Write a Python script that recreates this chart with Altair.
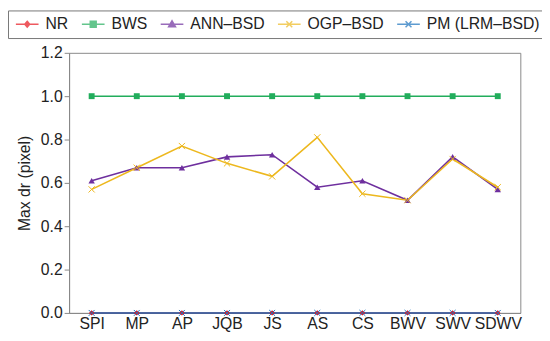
import altair as alt
import pandas as pd

categories = ["SPI", "MP", "AP", "JQB", "JS", "AS", "CS", "BWV", "SWV", "SDWV"]
series_names = ["NR", "BWS", "ANN–BSD", "OGP–BSD", "PM (LRM–BSD)"]
nr = [0, 0, 0, 0, 0, 0, 0, 0, 0, 0]
bws = [1.0, 1.0, 1.0, 1.0, 1.0, 1.0, 1.0, 1.0, 1.0, 1.0]
ann = [0.61, 0.67, 0.67, 0.72, 0.73, 0.58, 0.61, 0.52, 0.72, 0.57]
ogp = [0.57, 0.67, 0.77, 0.69, 0.63, 0.81, 0.55, 0.52, 0.71, 0.58]
pm = [0, 0, 0, 0, 0, 0, 0, 0, 0, 0]
y_ticks = [0.0, 0.2, 0.4, 0.6, 0.8, 1.0, 1.2]

colors = ["#E8141C", "#22AD5C", "#6E2F9E", "#EDB81E", "#1A72BD"]
XPATH = "M-1,-1L1,1M-1,1L1,-1"
marker_shapes = ["diamond", "square", "triangle-up", XPATH, XPATH]
marker_filled = [True, True, True, False, False]
marker_sizes = [30, 36, 42, 40, 36]

# legend symbols: short line + marker (custom paths)
LINE = "M-1.2,0H3.4"
legend_paths = [
    LINE + "M1.1,-0.6L1.6,0L1.1,0.6L0.6,0Z",
    LINE + "M0.5,-0.6H1.7V0.6H0.5Z",
    LINE + "M1.1,-0.7L1.8,0.5H0.4Z",
    LINE + "M0.5,-0.6L1.7,0.6M0.5,0.6L1.7,-0.6",
    LINE + "M0.5,-0.6L1.7,0.6M0.5,0.6L1.7,-0.6",
]

all_vals = [nr, bws, ann, ogp, pm]
rows = []
for s, vals in zip(series_names, all_vals):
    for c, v in zip(categories, vals):
        rows.append({"category": c, "series": s, "value": v})
df = pd.DataFrame(rows)

FONT = "Liberation Sans"
xenc = alt.X("category:N", sort=categories,
             scale=alt.Scale(type="point", padding=0.5),
             axis=alt.Axis(title=None, ticks=False, labelAngle=0, labelFontSize=16,
                           labelFont=FONT, labelColor="#222", labelPadding=3,
                           domainColor="#888"))
yenc = alt.Y("value:Q", scale=alt.Scale(domain=[0, 1.2], nice=False),
             axis=alt.Axis(title="Max dr (pixel)", values=y_ticks, format=".1f", grid=False,
                           tickSize=5, tickColor="#888", domainColor="#888",
                           labelFontSize=16, labelFont=FONT, labelColor="#222",
                           titleFontSize=16, titleFont=FONT, titleFontWeight="normal",
                           titleColor="#222", labelPadding=2, titlePadding=8))

base = alt.Chart(df)
layers = []
for i, s in enumerate(series_names):
    layers.append(
        base.transform_filter(alt.datum.series == s)
        .mark_line(color=colors[i], strokeWidth=1.6)
        .encode(x=xenc, y=yenc)
    )
for i, s in enumerate(series_names):
    pt = dict(shape=marker_shapes[i], size=marker_sizes[i], opacity=1)
    if marker_filled[i]:
        pt.update(filled=True, fill=colors[i], strokeWidth=0)
    else:
        pt.update(filled=False, stroke=colors[i], strokeWidth=1)
    layers.append(
        base.transform_filter(alt.datum.series == s)
        .mark_point(**pt)
        .encode(x=xenc, y=yenc)
    )

leg = alt.Legend(title=None, orient="none", legendX=-62, legendY=-43, direction="horizontal",
                 labelFontSize=16, labelFont=FONT, labelColor="#222",
                 symbolSize=100, symbolStrokeWidth=1.5, labelOffset=16,
                 columnPadding=10, padding=6, strokeColor="#777",
                 labelLimit=300)
sc_color = alt.Scale(domain=series_names, range=colors)
legend_layer = (
    base.transform_filter(alt.datum.value > 100)
    .mark_point(filled=True, strokeWidth=1.5)
    .encode(
        x=xenc, y=yenc,
        color=alt.Color("series:N", scale=sc_color, legend=leg, sort=series_names),
        stroke=alt.Stroke("series:N", scale=sc_color, legend=leg, sort=series_names),
        shape=alt.Shape("series:N", scale=alt.Scale(domain=series_names, range=legend_paths),
                        legend=leg, sort=series_names),
    )
)
layers.append(legend_layer)

chart = alt.layer(*layers).properties(
    width=458, height=264,
    autosize=alt.AutoSizeParams(type="none"),
    padding={"left": 62, "top": 43, "right": 22, "bottom": 26},
).configure_view(stroke="#888", strokeWidth=1)

chart.save("out.html", embed_options={"renderer": "svg", "actions": False})
